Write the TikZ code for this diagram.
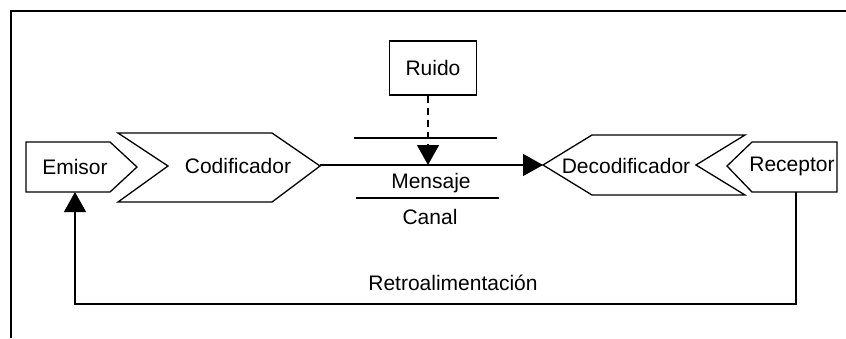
\documentclass[tikz,border=0pt]{standalone}
\usepackage{fontspec}
\setmainfont{Liberation Sans}
\usetikzlibrary{arrows.meta}
\begin{document}
\begin{tikzpicture}[x=1pt,y=-1pt,
  shapeline/.style={line width=1.3pt, line join=miter},
  lbl/.style={inner sep=0pt, font=\fontsize{21}{24}\selectfont},
  conn/.style={line width=1.3pt},
  bigtip/.style={-{Triangle[length=20pt,width=22pt]}},
  framestyle/.style={line width=1.5pt}]
\useasboundingbox (0,0) rectangle (846,338);
% frame (top and left edges)
\draw[framestyle] (11,338) -- (11,11) -- (846,11);

% Emisor
\draw[shapeline] (26,142) -- (110,142) -- (137,167) -- (110,192) -- (26,192) -- cycle;
\node[lbl] (emisor) at (75,167) {Emisor};
% Codificador
\draw[shapeline] (118,133) -- (272,133) -- (320,166) -- (272,202) -- (118,202) -- (168,166) -- cycle;
\node[lbl] (codif) at (238,166) {Codificador};
% Decodificador
\draw[shapeline] (543,165) -- (592,135) -- (745,135) -- (696,165) -- (745,195) -- (592,195) -- cycle;
\node[lbl] (decod) at (626,166) {Decodificador};
% Receptor
\draw[shapeline] (727,166) -- (752,142) -- (837,142) -- (837,192) -- (752,192) -- cycle;
\node[lbl] (recep) at (792,166) {Receptor};

% Ruido
\node[shapeline, draw, minimum width=87pt, minimum height=54pt, inner sep=0pt,
      font=\fontsize{21}{24}\selectfont] (ruido) at (433,68) {Ruido};

% channel lines and labels
\coordinate (c1a) at (354,138);
\coordinate (c1b) at (497,138);
\coordinate (c2a) at (356,198);
\coordinate (c2b) at (499,198);
\draw[conn] (c1a) -- (c1b);
\draw[conn] (c2a) -- (c2b);
\node[lbl] (mensaje) at (431,183) {Mensaje};
\node[lbl] (canal) at (430,217) {Canal};

% message connector
\coordinate (codtip) at (320,165);
\coordinate (dectip) at (543,165);
\draw[conn, bigtip] (codtip) -- (dectip);

% noise connector
\coordinate (msg) at (428,165);
\draw[conn, dashed, dash pattern=on 7pt off 5pt, bigtip] (ruido.south -| msg) -- (msg);

% feedback
\coordinate (recb) at (796,192);
\coordinate (emib) at (75,192);
\coordinate (fbl) at (75,304);
\draw[conn, bigtip] (recb) |- (fbl) -- (emib);
\node[lbl] (retro) at (453,283) {Retroalimentación};
\end{tikzpicture}
\end{document}
